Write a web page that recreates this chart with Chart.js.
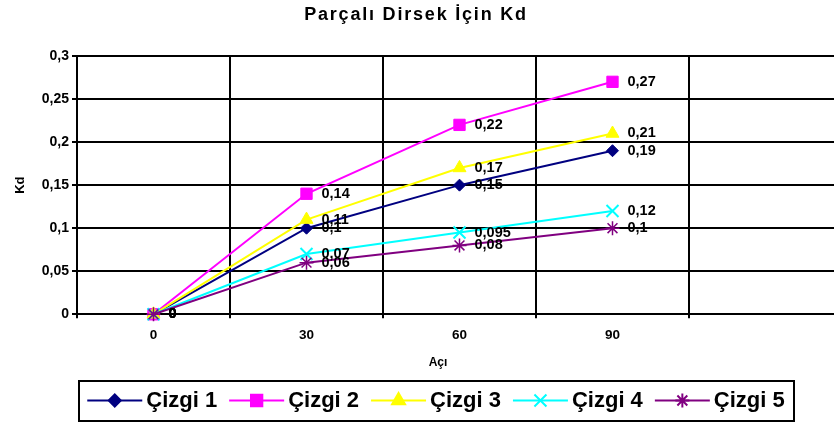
<!DOCTYPE html>
<html><head><meta charset="utf-8">
<script src="https://cdn.jsdelivr.net/npm/chart.js@4/dist/chart.umd.min.js"></script>
<style>html,body{margin:0;padding:0;background:#fff;overflow:hidden}#wrap{width:834px;height:423px;overflow:hidden;position:relative;background:#fff}canvas{display:block}</style>
</head><body><div id="wrap"><canvas id="c" width="842" height="423"></canvas></div>
<script>
// ---- data ----
const chartTitle = 'Parçalı Dirsek İçin Kd';
const xAxisTitle = 'Açı';
const yAxisTitle = 'Kd';
const categories = ['0', '30', '60', '90', ''];
const yTickValues = [0, 0.05, 0.1, 0.15, 0.2, 0.25, 0.3];
const yTickLabels = ['0', '0,05', '0,1', '0,15', '0,2', '0,25', '0,3'];
const seriesNames = ['Çizgi 1', 'Çizgi 2', 'Çizgi 3', 'Çizgi 4', 'Çizgi 5'];
const cizgi1 = [0, 0.1, 0.15, 0.19];
const cizgi2 = [0, 0.14, 0.22, 0.27];
const cizgi3 = [0, 0.11, 0.17, 0.21];
const cizgi4 = [0, 0.07, 0.095, 0.12];
const cizgi5 = [0, 0.06, 0.08, 0.1];
const seriesValues = [cizgi1, cizgi2, cizgi3, cizgi4, cizgi5];

// ---- styles ----
const FONT = '"Liberation Sans", Arial, Helvetica, sans-serif';
const colors = ['#000080', '#FF00FF', '#FFFF00', '#00FFFF', '#800080'];
const pStyles = ['rectRot', 'rect', 'triangle', 'crossRot', 'star'];
const pRadius = [6, 8, 7.5, 8.5, 7];
const pBorder = [1, 1, 1, 2, 1.5];
const titleShift = -5, legendShift = 15, xTitleShift = -21.5;
const titleLetterSpacing = '1.8px';

function fmt(v) { return String(v).replace('.', ','); }

const H = Chart.helpers;
function drawMarker(ctx, style, r, x, y, bw) {
  if (H && H.drawPoint) { H.drawPoint(ctx, {pointStyle: style, radius: r, rotation: 0, borderWidth: bw}, x, y); return; }
  ctx.lineWidth = bw; ctx.beginPath();
  if (style === 'rectRot') { ctx.moveTo(x - r, y); ctx.lineTo(x, y - r); ctx.lineTo(x + r, y); ctx.lineTo(x, y + r); ctx.closePath(); ctx.fill(); ctx.stroke(); }
  else if (style === 'rect') { const s = r * Math.SQRT1_2; ctx.rect(x - s, y - s, 2 * s, 2 * s); ctx.fill(); ctx.stroke(); }
  else if (style === 'triangle') { ctx.moveTo(x, y - r); ctx.lineTo(x + r * 0.866, y + r / 2); ctx.lineTo(x - r * 0.866, y + r / 2); ctx.closePath(); ctx.fill(); ctx.stroke(); }
  else { const s = r * Math.SQRT1_2; ctx.moveTo(x - s, y - s); ctx.lineTo(x + s, y + s); ctx.moveTo(x + s, y - s); ctx.lineTo(x - s, y + s);
    if (style === 'star') { ctx.moveTo(x, y - r); ctx.lineTo(x, y + r); ctx.moveTo(x - r, y); ctx.lineTo(x + r, y); } ctx.stroke(); }
}

const tweaks = {
  id: 'tweaks',
  afterLayout(chart) {
    const wrap = (obj, fn, dx, spacing) => {
      if (!obj || obj['__w_' + fn]) return;
      const orig = obj[fn];
      obj['__w_' + fn] = true;
      obj[fn] = function (...a) {
        const c = chart.ctx; c.save(); c.translate(dx, 0);
        if (spacing) c.letterSpacing = spacing;
        const r = orig.apply(this, a); c.restore(); return r;
      };
    };
    wrap(chart.titleBlock, 'draw', titleShift, titleLetterSpacing);
    wrap(chart.legend, 'draw', legendShift);
    wrap(chart.scales.x, 'drawTitle', xTitleShift);
  },
  afterDatasetsDraw(chart) {
    const ctx = chart.ctx;
    ctx.save();
    ctx.font = 'bold 14.5px ' + FONT; ctx.fillStyle = '#000';
    ctx.textAlign = 'left'; ctx.textBaseline = 'middle';
    chart.data.datasets.forEach((ds, i) => {
      const meta = chart.getDatasetMeta(i);
      meta.data.forEach((pt, j) => {
        const v = ds.data[j];
        if (v === null || v === undefined) return;
        ctx.fillText(fmt(v), pt.x + 15, pt.y);
      });
    });
    ctx.restore();
  },
  afterDraw(chart) {
    const lg = chart.legend, ctx = chart.ctx;
    const hbs = lg.legendHitBoxes;
    if (!hbs || !hbs.length) return;
    hbs.forEach((hb, k) => {
      const i = lg.legendItems[k].datasetIndex;
      const x0 = hb.left + legendShift, cy = hb.top + hb.height / 2;
      ctx.save();
      ctx.strokeStyle = colors[i]; ctx.lineWidth = 2;
      ctx.beginPath(); ctx.moveTo(x0, cy); ctx.lineTo(x0 + 55, cy); ctx.stroke();
      ctx.fillStyle = colors[i]; ctx.strokeStyle = colors[i];
      drawMarker(ctx, pStyles[i], pRadius[i], x0 + 27.5, cy, pBorder[i]);
      ctx.restore();
    });
    const f = hbs[0], l = hbs[hbs.length - 1], cy = f.top + f.height / 2;
    ctx.save(); ctx.strokeStyle = '#000'; ctx.lineWidth = 2;
    ctx.strokeRect(Math.round(f.left + legendShift - 8), Math.round(cy - 20), Math.round(l.left + l.width - f.left + 18), 40);
    ctx.restore();
  }
};

const datasets = seriesNames.map((n, i) => ({
  label: n,
  data: seriesValues[i],
  borderColor: colors[i],
  backgroundColor: colors[i],
  borderWidth: 2,
  pointStyle: pStyles[i],
  pointRadius: pRadius[i],
  pointBorderWidth: pBorder[i],
  pointBackgroundColor: colors[i],
  pointBorderColor: colors[i],
  tension: 0,
  clip: false,
  order: seriesNames.length - 1 - i
}));

new Chart(document.getElementById('c'), {
  type: 'line',
  data: { labels: categories, datasets },
  options: {
    responsive: false,
    animation: false,
    devicePixelRatio: 1,
    events: [],
    layout: { autoPadding: false, padding: { top: 0, left: 0, right: 0, bottom: 1.5 } },
    plugins: {
      tooltip: { enabled: false },
      title: {
        display: true, text: chartTitle, color: '#000',
        font: { family: FONT, size: 18, weight: 'bold', lineHeight: 1.2 },
        padding: { top: 4.2, bottom: 30.2 }
      },
      legend: {
        display: true, position: 'bottom', align: 'center',
        labels: {
          color: '#000', font: { family: FONT, size: 22, weight: 'bold' },
          boxWidth: 48, boxHeight: 2, padding: 12,
          sort: (a, b) => a.datasetIndex - b.datasetIndex,
          generateLabels: (chart) => chart.data.datasets.map((ds, i) => ({
            text: ds.label, datasetIndex: i, hidden: false,
            fillStyle: 'rgba(0,0,0,0)', strokeStyle: 'rgba(0,0,0,0)', lineWidth: 0, fontColor: '#000'
          }))
        }
      }
    },
    scales: {
      x: {
        type: 'category', offset: true,
        grid: { offset: true, color: '#000', lineWidth: 2, tickLength: 4, drawTicks: true },
        border: { color: '#000', width: 2 },
        ticks: { color: '#000', font: { family: FONT, size: 13.5, weight: 'bold' }, padding: 9.2, maxRotation: 0, autoSkip: false },
        title: { display: true, text: xAxisTitle, color: '#000', font: { family: FONT, size: 12, weight: 'bold', lineHeight: 1.2 }, padding: { top: 0, bottom: 7.3 } },
        afterFit: (s) => { s.height = 63.2; }
      },
      y: {
        type: 'linear', min: 0, max: 0.3,
        afterBuildTicks: (s) => { s.ticks = yTickValues.map(v => ({ value: v })); },
        grid: { color: '#000', lineWidth: 2, tickLength: 5, drawTicks: true },
        border: { color: '#000', width: 2 },
        ticks: { color: '#000', font: { family: FONT, size: 14, weight: 'bold' }, padding: 3, callback: (v, i) => yTickLabels[i] },
        title: { display: true, text: yAxisTitle, color: '#000', font: { family: FONT, size: 13, weight: 'bold', lineHeight: 1.2 }, padding: { top: 12.2, bottom: 0 } },
        afterFit: (s) => { s.width = 77; }
      }
    }
  },
  plugins: [tweaks]
});
</script>
</body></html>
